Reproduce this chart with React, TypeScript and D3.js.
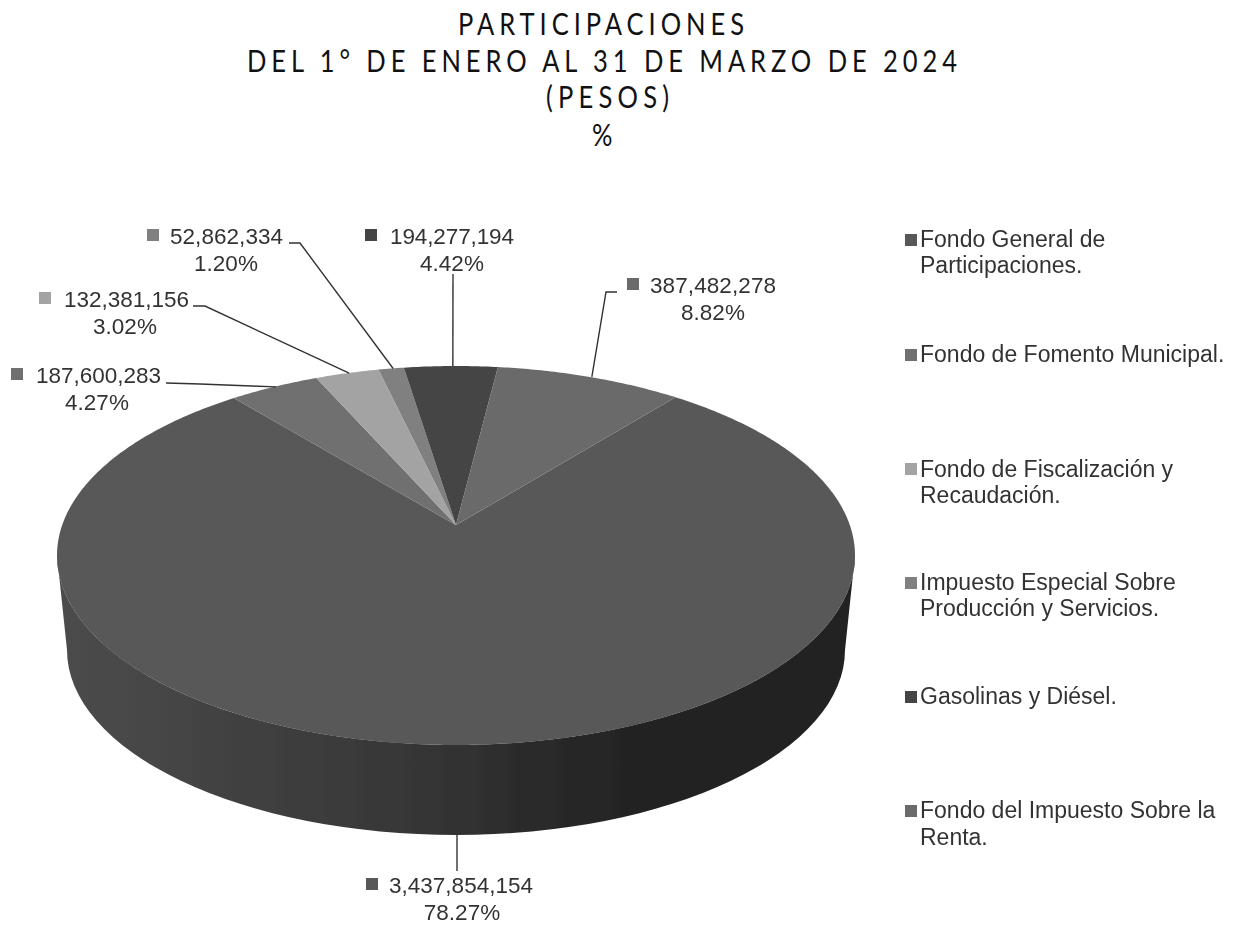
import React from "react";
import * as d3 from "d3";

const titleLines = ["PARTICIPACIONES", "DEL 1° DE ENERO AL 31 DE MARZO DE 2024", "(PESOS)", "%"];
const categories = [
  "Fondo General de Participaciones.",
  "Fondo de Fomento Municipal.",
  "Fondo de Fiscalización y Recaudación.",
  "Impuesto Especial Sobre Producción y Servicios.",
  "Gasolinas y Diésel.",
  "Fondo del Impuesto Sobre la Renta.",
];
const amounts = [3437854154, 187600283, 132381156, 52862334, 194277194, 387482278];
const amountLabels = ["3,437,854,154", "187,600,283", "132,381,156", "52,862,334", "194,277,194", "387,482,278"];
const percentLabels = ["78.27%", "4.27%", "3.02%", "1.20%", "4.42%", "8.82%"];
const colors = ["#595959", "#6f6f6f", "#a3a3a3", "#808080", "#444444", "#6b6b6b"];

// layout
const titleLayout = [
  { x1: 458, x2: 744, y: 35 },
  { x1: 247, x2: 957, y: 72 },
  { x1: 546, x2: 669, y: 108 },
  { x1: 592, x2: 610, y: 146 },
];
const legendLayout = [
  { lines: ["Fondo General de", "Participaciones."], ys: [247, 273], my: 234 },
  { lines: ["Fondo de Fomento Municipal."], ys: [362], my: 349 },
  { lines: ["Fondo de Fiscalización y", "Recaudación."], ys: [477, 503], my: 463 },
  { lines: ["Impuesto Especial Sobre", "Producción y Servicios."], ys: [590, 616], my: 577 },
  { lines: ["Gasolinas y Diésel."], ys: [704], my: 691 },
  { lines: ["Fondo del Impuesto Sobre la", "Renta."], ys: [818, 845], my: 805 },
];
const labelLayout = [
  { mx: 366, tx1: 389, tx2: 533, y: 893, cx: 462, leader: [[457, 871], [457, 835]] },
  { mx: 11, tx1: 36, tx2: 161, y: 383, cx: 97, leader: [[166, 383], [200, 384]] },
  { mx: 39, tx1: 64, tx2: 189, y: 307, cx: 125, leader: [[193, 306], [205, 306]] },
  { mx: 147, tx1: 170, tx2: 283, y: 244, cx: 226, leader: [[289, 243], [300, 243]] },
  { mx: 365, tx1: 390, tx2: 514, y: 244, cx: 452, leader: [[453, 274]] },
  { mx: 627, tx1: 650, tx2: 776, y: 293, cx: 713, leader: [[617, 292], [606, 292]] },
];
const leaderShift = 2;
const titleSquash = 0.85;

const apex = { x: 456, y: 525 };
const persp = -0.161;
const ampX = 393.8;
const ampY = 184.6;
const startDeg = 38.85;

// perspective view of the pie's unit circle
const project = (a: number): [number, number] => {
  const px = Math.sin(a);
  const py = -Math.cos(a);
  const w = 1 + persp * py;
  return [apex.x + (ampX * px) / w, apex.y + (ampY * py) / w];
};

const pie = d3
  .pie<number>()
  .sort(null)
  .startAngle((startDeg * Math.PI) / 180)
  .endAngle((startDeg * Math.PI) / 180 + 2 * Math.PI);
const arcs = pie(amounts);
const line = d3.line<[number, number]>();

const slicePath = (a0: number, a1: number) => {
  const n = Math.max(2, Math.ceil((a1 - a0) / 0.01));
  const samples = d3.range(n + 1).map((i) => project(a0 + ((a1 - a0) * i) / n));
  return line([[apex.x, apex.y], ...samples]) + "Z";
};

const top = { cx: 456, cy: 555.5, rx: 399, ry: 189.5 };
const base = { cx: 456, cy: 650, rx: 389, ry: 185 };
const sideD =
  `M${top.cx - top.rx},${top.cy}L${base.cx - base.rx},${base.cy}` +
  `A${base.rx},${base.ry} 0 0 0 ${base.cx + base.rx},${base.cy}` +
  `L${top.cx + top.rx},${top.cy}` +
  `A${top.rx},${top.ry} 0 0 1 ${top.cx - top.rx},${top.cy}Z`;

const arial = "'Liberation Sans', Arial, sans-serif";
const textColor = "#333333";

export default function App() {
  return (
    <svg
      width={1236}
      height={925}
      viewBox="0 0 1236 925"
      style={{ position: "absolute", left: 0, top: 0, display: "block", background: "#fff" }}
    >
      <defs>
        <linearGradient id="side" gradientUnits="userSpaceOnUse" x1={57} x2={855} y1={0} y2={0}>
          <stop offset="0" stopColor="#4c4c4c" />
          <stop offset="0.45" stopColor="#363636" />
          <stop offset="0.6" stopColor="#2a2a2a" />
          <stop offset="0.75" stopColor="#222222" />
          <stop offset="1" stopColor="#222222" />
        </linearGradient>
        <filter id="soft" x="-2%" y="-2%" width="104%" height="104%">
          <feGaussianBlur stdDeviation="0.45" />
        </filter>
      </defs>

      {titleLines.map((t, i) => (
        <text
          key={t}
          transform={`translate(${titleLayout[i].x1},${titleLayout[i].y}) scale(${titleSquash},1)`}
          textLength={(titleLayout[i].x2 - titleLayout[i].x1) / titleSquash}
          lengthAdjust="spacing"
          fontFamily="Lato, sans-serif"
          fontSize={30}
          fill="#111"
        >
          {t}
        </text>
      ))}

      <g filter="url(#soft)">
        <path d={sideD} fill="url(#side)" />
        {arcs.map((a, i) => (
          <path key={categories[i]} d={slicePath(a.startAngle, a.endAngle)} fill={colors[i]} />
        ))}

        {arcs.map((a, i) => {
          const l = labelLayout[i];
          const p = project((a.startAngle + a.endAngle) / 2);
          const end: [number, number][] = i === 0 ? [] : [[p[0] + leaderShift, p[1]]];
          return (
            <g key={amountLabels[i]}>
              <path
                d={line([...(l.leader as [number, number][]), ...end]) || ""}
                fill="none"
                stroke="#333"
                strokeWidth={1.4}
              />
              <rect x={l.mx} y={l.y - 15} width={12} height={12} fill={colors[i]} />
              <text
                x={l.tx1}
                y={l.y}
                textLength={l.tx2 - l.tx1}
                lengthAdjust="spacing"
                fontFamily={arial}
                fontSize={22.5}
                fill={textColor}
              >
                {amountLabels[i]}
              </text>
              <text x={l.cx} y={l.y + 27} textAnchor="middle" fontFamily={arial} fontSize={22.5} fill={textColor}>
                {percentLabels[i]}
              </text>
            </g>
          );
        })}

        {legendLayout.map((l, i) => (
          <g key={categories[i]}>
            <rect x={905} y={l.my} width={12} height={12} fill={colors[i]} />
            {l.lines.map((t, j) => (
              <text key={t} x={920} y={l.ys[j]} fontFamily={arial} fontSize={23} fill={textColor}>
                {t}
              </text>
            ))}
          </g>
        ))}
      </g>
    </svg>
  );
}
